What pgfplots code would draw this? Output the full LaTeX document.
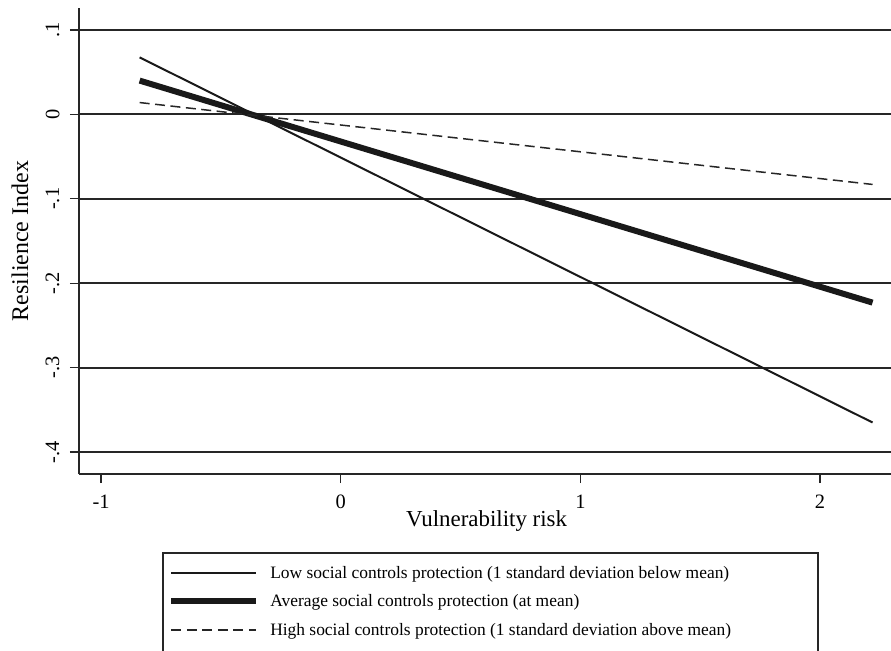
\documentclass[border=0pt]{standalone}
\usepackage{fontspec}
\setmainfont{Liberation Serif}
\usepackage{pgfplots}
\pgfplotsset{compat=1.18}
\begin{document}
\begin{tikzpicture}
\path[use as bounding box] (0,0) rectangle (891bp,651bp);
\begin{axis}[
  at={(79bp,177bp)}, anchor=south west,
  scale only axis, width=812bp, height=466bp,
  xmin=-1.092, xmax=2.296, ymin=-0.426, ymax=0.126,
  axis lines=left, axis line style={-, line width=1.5bp, black!85},
  xtick={-1,0,1,2}, xticklabels={-1,0,1,2},
  ytick={-0.4,-0.3,-0.2,-0.1,0,0.1}, yticklabels={-.4,-.3,-.2,-.1,0,.1},
  /pgf/number format/assume math mode=true,
  tick align=outside, major tick length=9bp,
  tick style={line width=1.3bp, black!85},
  yticklabel style={rotate=90, anchor=south, font=\fontsize{20.5}{22}\selectfont, yshift=7bp},
  xticklabel style={font=\fontsize{20.5}{22}\selectfont, yshift=-8bp},
  ymajorgrids, grid style={line width=1.8bp, black!85},
  xlabel={Vulnerability risk}, ylabel={Resilience Index},
  every axis x label/.style={at={(axis description cs:0.502,-0.1137)}, anchor=base, font=\fontsize{23}{26}\selectfont},
  every axis y label/.style={at={(axis description cs:-0.0727,0.5)}, rotate=90, anchor=center, font=\fontsize{24}{27}\selectfont},
  clip=false,
  legend cell align=left,
  legend style={draw=none, fill=none, at={(0.106,-0.1886)}, anchor=north west,
    font=\fontsize{17.5}{19}\selectfont, row sep=11bp,
    nodes={inner sep=2bp},
    /tikz/every odd column/.append style={column sep=9bp}},
  legend image code/.code={\draw[#1] (0bp,0bp) -- (85bp,0bp);},
]
\addplot[line width=2bp, black!90] coordinates {(-0.839,0.0675) (2.219,-0.365)};
\addlegendentry{Low social controls protection (1 standard deviation below mean)}
\addplot[line width=6bp, black!90] coordinates {(-0.839,0.040) (2.219,-0.223)};
\addlegendentry{Average social controls protection (at mean)}
\addplot[line width=1.5bp, black!85, dash pattern=on 10bp off 5.5bp] coordinates {(-0.839,0.014) (2.219,-0.083)};
\addlegendentry{High social controls protection (1 standard deviation above mean)}
\end{axis}
\draw[line width=1.2bp, black!85] (163bp,-20bp) rectangle (818bp,98bp);
\end{tikzpicture}
\end{document}
